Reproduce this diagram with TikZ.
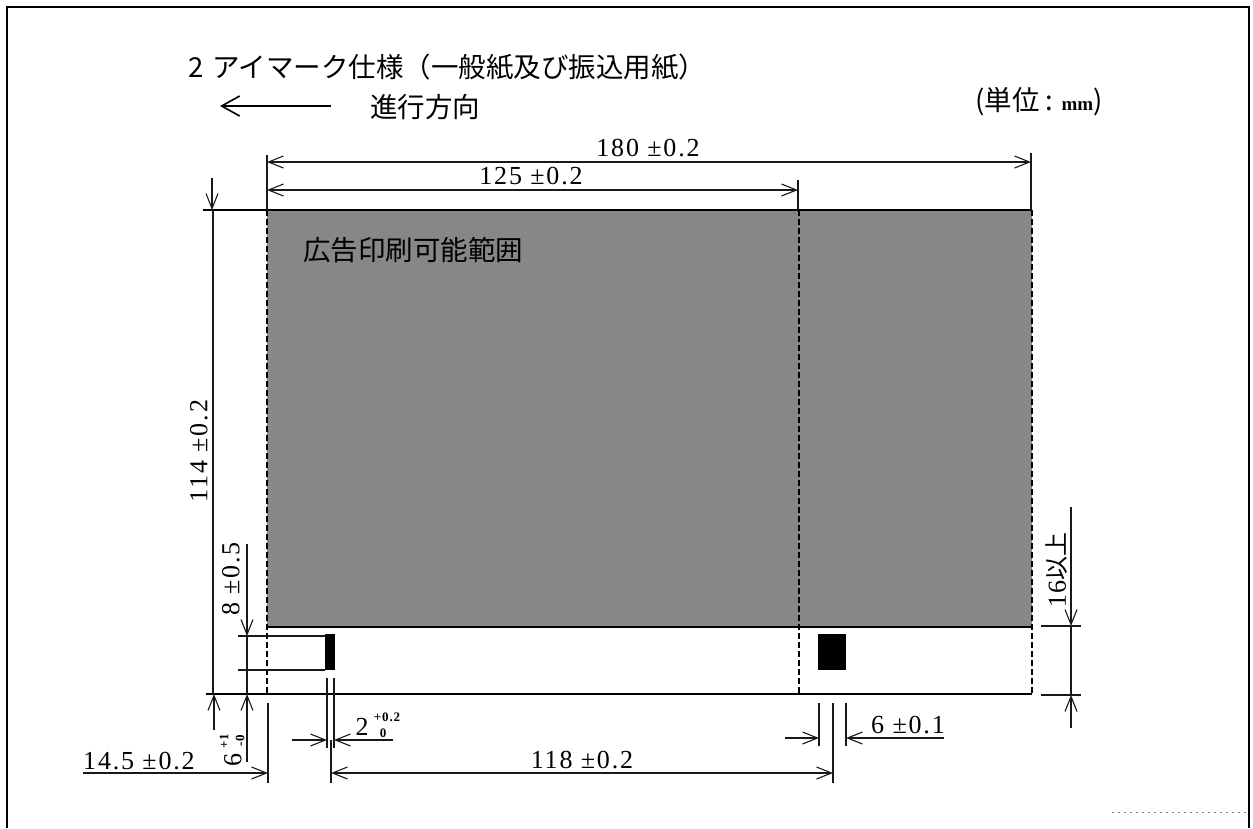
\documentclass[tikz,border=0pt]{standalone}
\usepackage{fontspec}
\usetikzlibrary{arrows.meta}
\setmainfont{Liberation Serif}
\newfontfamily\cjk{Noto Sans CJK JP}
\newfontfamily\spaced[LetterSpace=7]{Liberation Serif}
\tikzset{
  x=1pt,y=-1pt,
  barb/.tip={Straight Barb[length=15pt,width=12pt,line width=1.1pt]},
  dimline/.style={line width=1.3pt,draw=black!90,barb-barb},
  oneway/.style={line width=1.3pt,draw=black!90,-barb},
  extline/.style={line width=1.2pt,draw=black!90},
  edgeline/.style={line width=1.8pt,draw=black},
  dashline/.style={line width=1.7pt,draw=black,dash pattern=on 6pt off 3pt},
  lab/.style={font=\spaced\fontsize{26}{26}\selectfont,inner sep=0pt,text=black},
  smalltol/.style={font=\spaced\fontsize{13}{13}\selectfont\bfseries,inner sep=0pt,text=black},
  jp/.style={font=\cjk\fontsize{27.5}{27.5}\selectfont,inner sep=0pt,text=black},
}
\begin{document}
\begin{tikzpicture}
\useasboundingbox (0,0) rectangle (1253,828);
\fill[white] (0,0) rectangle (1253,828);
% frame
\draw[edgeline] (7,828) -- (7,7) -- (1249,7) -- (1249,828);
\draw[line width=.7pt,black!50,dash pattern=on 2pt off 4pt] (1112,812) -- (1249,812);
% area
\fill[black!47] (267,210) rectangle (1032,627);
\coordinate (tl) at (267,210); \coordinate (tr) at (1032,210);
\coordinate (ml) at (267,627); \coordinate (mr) at (1032,627);
\coordinate (bl) at (267,694); \coordinate (br) at (1032,694);
\coordinate (ct) at (799,210); \coordinate (cb) at (799,694);
\draw[edgeline] (203,210) -- (tr);
\draw[edgeline] (ml) -- (mr);
\draw[edgeline] (206,694) -- (br);
\draw[dashline] (tl) -- (bl);
\draw[dashline] (tr) -- (br);
\draw[dashline] (ct) -- (cb);
% marks
\fill[black] (325,634) rectangle (335,670);
\fill[black] (818,634) rectangle (846,670);
\draw[extline,line width=1.4pt] (238,636) -- (325,636);
\draw[extline,line width=1.4pt] (238,670) -- (325,670);
% text
\node[jp,anchor=west] (title) at (188,67) {2\kern9pt アイマーク仕様（一般紙及び振込用紙）};
\node[jp,anchor=west] (dir) at (370,107) {進行方向};
\node[jp,anchor=west] (unit) at (975,102) {(単位 : {\rmfamily\fontsize{19}{19}\selectfont\bfseries mm})};
\node[jp,anchor=west] (area) at (303,250) {広告印刷可能範囲};
\coordinate (d1) at (331,106); \coordinate (d2) at (220,106);
\draw[line width=1.5pt,-{Straight Barb[length=18pt,width=20pt,line width=1.6pt]}] (d1) -- (d2);
% dims top
\draw[extline] (267,155) -- (267,210);
\draw[extline] (1031,153) -- (1031,210);
\draw[extline] (798,180) -- (798,210);
\draw[dimline] (267,162) -- (1031,162);
\draw[dimline] (267,190) -- (798,190);
\node[lab] (d180) at (648,148) {180 ±0.2};
\node[lab] (d125) at (531,176) {125 ±0.2};
% left dim 114
\draw[extline,line width=1.5pt] (213,210) -- (213,694);
\draw[oneway] (212,178) -- (212,210);
\draw[oneway] (214,730) -- (214,694);
\node[lab,rotate=90] (d114) at (199,451) {114 ±0.2};
% 8
\draw[extline] (247,636) -- (247,694);
\draw[oneway] (247,544) -- (247,636);
\draw[oneway] (247,762) -- (247,694);
\node[lab,rotate=90] (d8) at (231,579) {8 ±0.5};
\node[lab,rotate=90] (d6) at (233,760) {6};
\node[smalltol,rotate=90] (d6t) at (224,741) {+1};
\node[smalltol,rotate=90] (d6b) at (240,741) {-0};
% 2
\draw[extline] (327,678) -- (327,748);
\draw[extline] (334,678) -- (334,748);
\draw[oneway] (292,740) -- (327,740);
\draw[oneway] (393,740) -- (334,740);
\node[lab] (d2t) at (362,727) {2};
\node[smalltol] (d2a) at (387,717) {+0.2};
\node[smalltol] (d2b) at (383,733) {0};
% bottom dims
\draw[extline] (268,703) -- (268,783);
\draw[extline] (331,740) -- (331,783);
\draw[extline] (833,703) -- (833,783);
\draw[oneway] (83,773) -- (268,773);
\draw[dimline] (331,773) -- (833,773);
\node[lab] (d145) at (139,761) {14.5 ±0.2};
\node[lab] (d118) at (582,760) {118 ±0.2};
% 6
\draw[extline] (819,703) -- (819,746);
\draw[extline] (846,703) -- (846,746);
\draw[oneway] (785,738) -- (819,738);
\draw[oneway] (944,738) -- (846,738);
\node[lab] (d6w) at (908,725) {6 ±0.1};
% right dim
\draw[extline] (1041,626) -- (1081,626);
\draw[extline] (1041,695) -- (1081,695);
\draw[oneway] (1071,507) -- (1071,626);
\draw[oneway] (1071,728) -- (1071,695);
\draw[extline] (1071,626) -- (1071,695);
\node[lab,rotate=90] (d16) at (1057,570) {16{\cjk\fontsize{24}{24}\selectfont 以上}};
\end{tikzpicture}
\end{document}
